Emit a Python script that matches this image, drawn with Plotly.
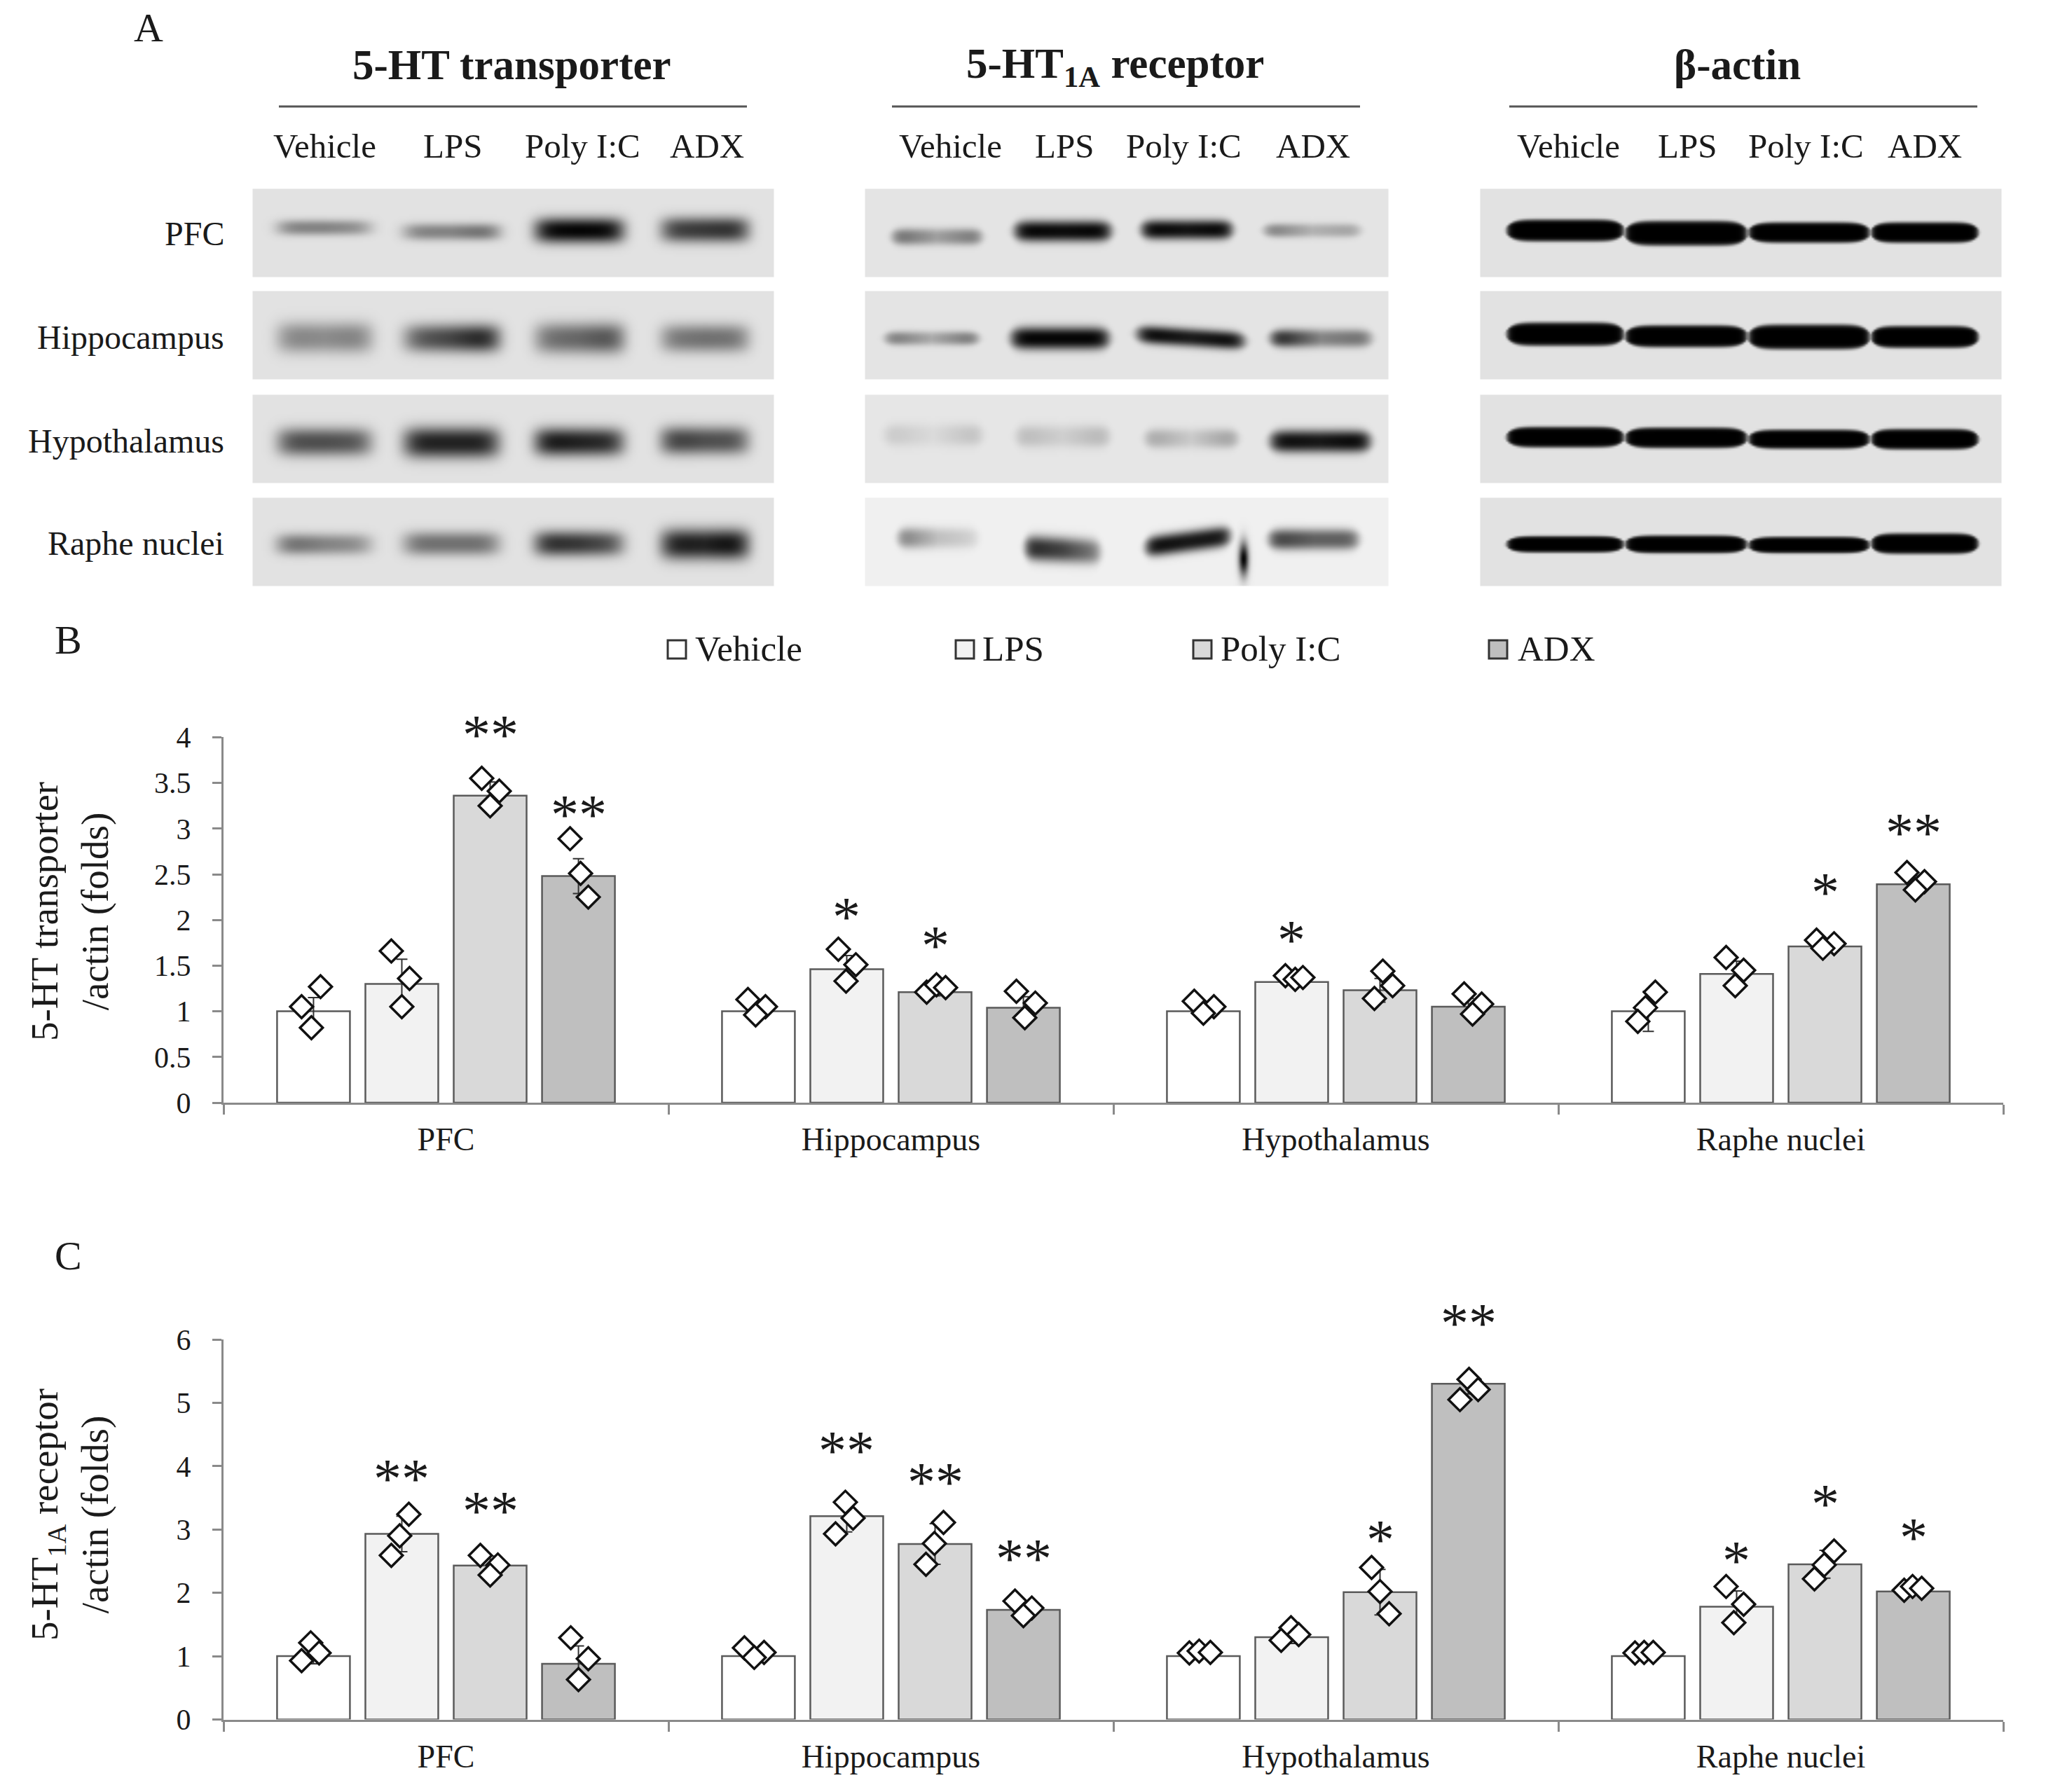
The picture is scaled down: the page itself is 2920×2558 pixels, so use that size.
import numpy as np
import plotly.graph_objects as go

# ---- bar chart data ----
regions = ["PFC", "Hippocampus", "Hypothalamus", "Raphe nuclei"]
treatments = ["Vehicle", "LPS", "Poly I:C", "ADX"]
bar_colors = ["#ffffff", "#f2f2f2", "#d9d9d9", "#bfbfbf"]

# panel B, 5-HT transporter
htt_vehicle = [1.0, 1.0, 1.0, 1.0]
htt_lps = [1.30, 1.46, 1.32, 1.41]
htt_polyic = [3.36, 1.21, 1.23, 1.71]
htt_adx = [2.48, 1.04, 1.05, 2.39]
htt_err = [[.15, .07, .06, .22], [.27, .15, .03, .14], [.15, .04, .13, .04], [.19, .12, .09, .09]]
htt_points = [
    [[1.05, 1.27, .82], [1.13, 1.05, .96], [1.11, 1.05, .98], [1.21, 1.04, .89]],
    [[1.66, 1.36, 1.05], [1.68, 1.51, 1.33], [1.39, 1.35, 1.37], [1.59, 1.45, 1.28]],
    [[3.55, 3.41, 3.25], [1.21, 1.29, 1.26], [1.44, 1.28, 1.14], [1.78, 1.74, 1.69]],
    [[2.89, 2.51, 2.25], [1.22, 1.09, .93], [1.19, 1.08, .97], [2.52, 2.42, 2.33]],
]
htt_jitter = [
    [[-17, 10, -3], [-15, 10, -4], [-13, 15, 0], [10, -4, -15]],
    [[-15, 11, 0], [-12, 13, -1], [-9, 5, 16], [-15, 10, -2]],
    [[-12, 13, 0], [-12, 2, 15], [4, 18, -8], [-12, 13, -3]],
    [[-12, 3, 14], [-10, 17, 2], [-6, 19, 6], [-9, 16, 3]],
]
htt_star_region = [0, 0, 1, 1, 2, 3, 3]
htt_star_treat = [2, 3, 1, 2, 1, 2, 3]
htt_star_y = [4.09, 3.21, 2.09, 1.78, 1.84, 2.36, 3.01]
htt_star_text = ["**", "**", "*", "*", "*", "*", "**"]

# panel C, 5-HT1A receptor
r1a_vehicle = [1.0, 1.0, 1.0, 1.0]
r1a_lps = [2.93, 3.21, 1.30, 1.78]
r1a_polyic = [2.43, 2.77, 2.01, 2.45]
r1a_adx = [.88, 1.73, 5.30, 2.02]
r1a_err = [[.12, .06, .03, .02], [.28, .25, .10, .25], [.15, .32, .36, .22], [.28, .11, .16, .03]]
r1a_points = [
    [[1.21, 1.05, .93], [1.13, 1.06, .98], [1.05, 1.08, 1.06], [1.05, 1.06, 1.06]],
    [[3.24, 2.90, 2.59], [3.43, 3.18, 2.93], [1.45, 1.34, 1.25], [2.10, 1.82, 1.53]],
    [[2.59, 2.44, 2.28], [3.11, 2.78, 2.45], [2.40, 2.02, 1.67], [2.66, 2.44, 2.22]],
    [[1.29, .96, .63], [1.87, 1.76, 1.64], [5.37, 5.21, 5.05], [2.04, 2.10, 2.07]],
]
r1a_jitter = [
    [[-4, 8, -17], [-20, 8, -6], [-20, -6, 10], [-19, -6, 7]],
    [[10, -3, -15], [-2, 9, -16], [-1, 10, -15], [-15, 10, -4]],
    [[-14, 11, 0], [12, -1, -13], [-12, 0, 13], [13, -1, -15]],
    [[-11, 14, 0], [-12, 12, 0], [1, 14, -12], [-13, -1, 12]],
]
r1a_star_region = [0, 0, 1, 1, 1, 2, 2, 3, 3, 3]
r1a_star_treat = [1, 2, 1, 2, 3, 2, 3, 1, 2, 3]
r1a_star_y = [3.89, 3.38, 4.33, 3.83, 2.63, 2.92, 6.34, 2.59, 3.49, 2.96]
r1a_star_text = ["**", "**", "**", "**", "**", "*", "**", "*", "*", "*"]

# ---- western blot band darkness (0 white, 1 black), left / middle / right of each band ----
blot_rows = ["PFC", "Hippocampus", "Hypothalamus", "Raphe nuclei"]
htt_band_dark = [
    [(.42, .42, .33), (.42, .42, .55), (.95, .98, .95), (.70, .75, .80)],
    [(.42, .38, .45), (.55, .70, .92), (.48, .55, .68), (.45, .50, .48)],
    [(.65, .65, .60), (.85, .85, .85), (.92, .85, .78), (.75, .65, .62)],
    [(.55, .42, .35), (.50, .50, .50), (.82, .75, .60), (.88, .85, .98)],
]
htt_band_half = [[11, 12, 18, 18], [22, 20, 22, 20], [20, 22, 20, 20], [15, 17, 18, 22]]
htt_band_y = [[324, 330, 328, 327], [481, 482, 482, 482], [630, 631, 630, 628], [776, 775, 775, 776]]

r1a_band_dark = [
    [(.55, .30, .50), (.98, .95, .98), (.98, .92, .98), (.48, .22, .30)],
    [(.50, .25, .52), (.98, .98, .98), (.98, .88, .96), (.92, .42, .52)],
    [(.14, .05, .18), (.20, .10, .22), (.30, .12, .33), (.95, .90, .98)],
    [(.50, .20, .12), (.85, .72, .45), (.95, .90, .90), (.75, .60, .60)],
]
r1a_band_half = [[12, 15, 14, 10], [10, 16, 13, 13], [16, 16, 14, 16], [15, 18, 15, 15]]
r1a_band_y = [[337, 329, 327, 328], [482, 482, 481, 482], [620, 622, 625, 629], [767, 784, 772, 769]]

actin_band_dark = [[(1, 1, 1)] * 4] * 4
actin_band_half = [[16, 18, 15, 15], [17, 16, 18, 16], [15, 15, 14, 15], [12, 13, 12, 15]]
actin_band_y = [[328, 332, 331, 331], [476, 479, 480, 480], [623, 624, 626, 626], [776, 776, 777, 775]]

# ---- page layout in pixels ----
W, H = 2920, 2558
SERIF = "Liberation Serif"
INK = "#1a1a1a"
AXIS = "#8a8a8a"
CAT_PX = 635.0
BAR_PITCH = (1 - 0.206) / 4

blot_x = [(362, 1104), (1236, 1981), (2114, 2855)]
blot_y = [(271, 395), (417, 541), (565, 689), (712, 836)]
htt_lanes = [[(395, 530), (575, 712), (762, 890), (942, 1068)]] * 4
r1a_lanes = [
    [(1273, 1400), (1447, 1585), (1628, 1758), (1804, 1940)],
    [(1263, 1395), (1442, 1582), (1622, 1775), (1813, 1956)],
    [(1262, 1400), (1450, 1582), (1634, 1765), (1812, 1955)],
    [(1281, 1395), (1462, 1570), (1634, 1755), (1810, 1938)],
]
actin_lanes = [[(2149, 2317), (2318, 2493), (2494, 2668), (2669, 2823)]] * 4
r1a_tilt = {(1, 2): 5, (3, 1): 3, (3, 2): -8}
row_bg = [[226, 226, 226, 226], [228, 228, 230, 240], [226, 226, 226, 226]]


def blot_image(box_x, box_y, lanes, band_y, band_half, band_dark, bg, power, edge, taper, tilt=None, spot=None):
    # one grey gel strip, drawn as a smoothed heatmap
    xs = np.arange(box_x[0], box_x[1] + 1, 3.0)
    ys = np.arange(box_y[0], box_y[1] + 1, 3.0)
    X, Y = np.meshgrid(xs, ys)
    dark = np.zeros_like(X)
    for i, (a, b) in enumerate(lanes):
        u = (X - (a + b) / 2) / ((b - a) / 2)
        shift = (tilt or {}).get(i, 0) * u
        along = np.interp(u, [-1, 0, 1], band_dark[i])
        half = band_half[i] * np.maximum(0.2, 1 - taper * np.abs(u) ** 8)
        band = along * np.exp(-np.abs(u) ** edge) * np.exp(-np.abs((Y - band_y[i] - shift) / half) ** power)
        dark = np.maximum(dark, band)
    if spot:
        dark = np.maximum(dark, np.exp(-((X - spot[0]) / spot[2]) ** 2 - ((Y - spot[1]) / spot[3]) ** 2))
    return go.Heatmap(
        x=xs, y=ys, z=np.round(bg * (1 - dark)), zmin=0, zmax=255, zsmooth="best",
        colorscale=[[0, "#000000"], [1, "#ffffff"]], showscale=False, hoverinfo="skip",
        xaxis="x3", yaxis="y3",
    )


def add_panel(fig, xname, yname, series, errs, points, jitter):
    # bars with error bars, then the three diamonds on each bar
    centers = [i + 0.5 for i in range(len(regions))]
    for t, name in enumerate(treatments):
        fig.add_trace(go.Bar(
            x=centers, y=series[t], name=name, xaxis=xname, yaxis=yname,
            marker=dict(color=bar_colors[t], line=dict(color="#5a5a5a", width=2.5)),
            error_y=dict(type="data", array=errs[t], color="#333333", thickness=2, width=8),
            showlegend=False,
        ))
    for t in range(len(treatments)):
        for r in range(len(regions)):
            base = centers[r] + (t - 1.5) * BAR_PITCH
            fig.add_trace(go.Scatter(
                x=[base + j / CAT_PX for j in jitter[t][r]], y=points[t][r],
                mode="markers", xaxis=xname, yaxis=yname, showlegend=False,
                marker=dict(symbol="diamond", size=25, color="white", line=dict(color="#111111", width=3.5)),
            ))


fig = go.Figure()

# panel A gels
for p, (lanes, ys, half, dark, power, edge, taper) in enumerate([
    (htt_lanes, htt_band_y, htt_band_half, htt_band_dark, 2.4, 6, 0),
    (r1a_lanes, r1a_band_y, r1a_band_half, r1a_band_dark, 2.6, 10, 0.2),
    (actin_lanes, actin_band_y, actin_band_half, actin_band_dark, 8, 30, 0.65),
]):
    for r in range(4):
        tilt = {k[1]: v for k, v in r1a_tilt.items() if k[0] == r} if p == 1 else None
        spot = (1774, 797, 7, 24) if (p == 1 and r == 3) else None
        fig.add_trace(blot_image(blot_x[p], blot_y[r], lanes[r], ys[r], half[r], dark[r],
                                 row_bg[p][r], power, edge, taper, tilt, spot))

add_panel(fig, "x", "y", [htt_vehicle, htt_lps, htt_polyic, htt_adx], htt_err, htt_points, htt_jitter)
add_panel(fig, "x2", "y2", [r1a_vehicle, r1a_lps, r1a_polyic, r1a_adx], r1a_err, r1a_points, r1a_jitter)

annotations = []


def px_text(text, x, y, size, bold=False, anchor="center", angle=0):
    annotations.append(dict(
        text="<b>%s</b>" % text if bold else text, x=x, y=y, xref="x3", yref="y3", showarrow=False,
        xanchor=anchor, yanchor="middle", textangle=angle, font=dict(family=SERIF, size=size, color=INK),
    ))


px_text("A", 212, 39, 58)
px_text("B", 97, 913, 58)
px_text("C", 97, 1792, 58)
for title, x, y in zip(["5-HT transporter", "5-HT<sub>1A</sub> receptor", "β-actin"], [730, 1591, 2479], [92, 95, 92]):
    px_text(title, x, y, 61, bold=True)
for centers in [[463, 646, 831, 1009], [1356, 1519, 1689, 1874], [2238, 2408, 2577, 2747]]:
    for name, x in zip(treatments, centers):
        px_text(name, x, 208, 49)
for name, y in zip(blot_rows, [333, 481, 629, 775]):
    px_text(name, 322, y, 48, anchor="right")

# y titles, two lines each
px_text("5-HT transporter<br>/actin (folds)", 99, 1301, 55, angle=-90)
px_text("5-HT<sub>1A</sub> receptor<br>/actin (folds)", 99, 2162, 55, angle=-90)

# legend row between the gels and panel B
shapes = []
for name, color, box_x, text_x in zip(treatments, bar_colors, [953, 1364, 1703, 2125], [990, 1400, 1740, 2164]):
    shapes.append(dict(type="rect", xref="x3", yref="y3", x0=box_x, x1=box_x + 26, y0=914, y1=940,
                       fillcolor=color, line=dict(color="#333333", width=3)))
    px_text(name, text_x, 926, 51, anchor="left")

# rules under the blot titles
for x0, x1 in [(398, 1066), (1273, 1941), (2154, 2822)]:
    shapes.append(dict(type="line", xref="x3", yref="y3", x0=x0, x1=x1, y0=152, y1=152,
                       line=dict(color="#555555", width=3)))

# significance marks, held at the axis top with a shift when they sit above it
for xref, yref, rs, ts, ys, texts, ymax, px_per_unit in [
    ("x", "y", htt_star_region, htt_star_treat, htt_star_y, htt_star_text, 4, 130.4),
    ("x2", "y2", r1a_star_region, r1a_star_treat, r1a_star_y, r1a_star_text, 6, 90.4),
]:
    for r, t, y, text in zip(rs, ts, ys, texts):
        annotations.append(dict(
            text=text, x=r + 0.5 + (t - 1.5) * BAR_PITCH, y=min(y, ymax), xref=xref, yref=yref, showarrow=False,
            yshift=-8 + max(0, y - ymax) * px_per_unit, font=dict(family=SERIF, size=80, color=INK),
        ))

tick_font = dict(family=SERIF, size=42, color=INK)
cat_font = dict(family=SERIF, size=46, color=INK)


def x_axis(anchor):
    return dict(
        domain=[319 / W, 2859 / W], range=[0, 4], anchor=anchor, tickmode="array", automargin=False,
        tickvals=[0.5, 1.5, 2.5, 3.5], ticktext=regions, ticks="", tickfont=cat_font,
        ticklabelstandoff=10, showgrid=False, zeroline=False, showline=True, linecolor=AXIS, linewidth=3,
        minor=dict(tickmode="array", tickvals=[0, 1, 2, 3, 4], ticks="outside", ticklen=14,
                   tickwidth=3, tickcolor=AXIS, showgrid=False),
    )


def y_axis(anchor, top, bottom, ymax, dtick):
    return dict(
        domain=[1 - bottom / H, 1 - top / H], range=[0, ymax], anchor=anchor, dtick=dtick, automargin=False,
        tickfont=tick_font, ticks="outside", ticklen=13, tickwidth=3, tickcolor=AXIS,
        ticklabelstandoff=22, showgrid=False, zeroline=False, showline=True, linecolor=AXIS, linewidth=3,
    )


fig.update_layout(
    width=W, height=H, margin=dict(l=0, r=0, t=0, b=0), autosize=False,
    paper_bgcolor="white", plot_bgcolor="rgba(0,0,0,0)",
    barmode="group", bargap=0.206, bargroupgap=0.175, showlegend=False,
    xaxis=x_axis("y"), xaxis2=x_axis("y2"),
    yaxis=y_axis("x", 1052.4, 1574, 4, 0.5),
    yaxis2=y_axis("x2", 1912, 2454.5, 6, 1),
    xaxis3=dict(domain=[0, 1], range=[0, W], visible=False, anchor="y3", automargin=False),
    yaxis3=dict(domain=[0, 1], range=[H, 0], visible=False, anchor="x3", automargin=False),
    annotations=annotations, shapes=shapes,
)

fig.write_html("out.html", post_script="document.body.style.margin='0';", config=dict(displayModeBar=False))
